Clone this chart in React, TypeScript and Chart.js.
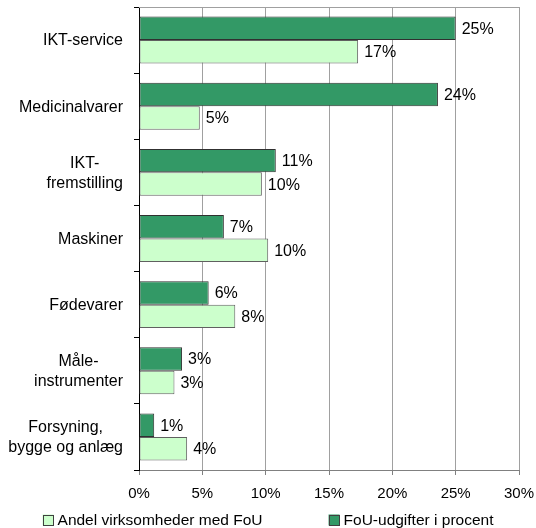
import React, { useEffect, useRef } from "react";
import { Chart, registerables } from "chart.js";

Chart.register(...registerables);

const categories: string[][] = [
  ["IKT-service"],
  ["Medicinalvarer"],
  ["IKT-", "fremstilling"],
  ["Maskiner"],
  ["Fødevarer"],
  ["Måle-", "instrumenter"],
  ["Forsyning,", "bygge og anlæg"],
];
const fouUdgifter = [25.0, 23.6, 10.8, 6.7, 5.5, 3.4, 1.2];
const andelVirksomheder = [17.3, 4.8, 9.7, 10.2, 7.6, 2.8, 3.8];
const seriesNames = ["FoU-udgifter i procent", "Andel virksomheder med FoU"];
const xMin = 0;
const xMax = 30;
const xStep = 5;

const FONT = "'Liberation Sans', Arial, sans-serif";
const DARK = "#339966";
const LIGHT = "#CCFFCC";

const extrasPlugin = {
  id: "extras",
  beforeDatasetsDraw(chart: any) {
    const { ctx, chartArea } = chart;
    ctx.save();
    ctx.strokeStyle = "#a0a0a0";
    ctx.lineWidth = 1;
    ctx.beginPath();
    ctx.moveTo(chartArea.left, chartArea.top + 0.5);
    ctx.lineTo(chartArea.right, chartArea.top + 0.5);
    ctx.stroke();
    ctx.restore();
  },
  afterDatasetsDraw(chart: any) {
    const { ctx } = chart;
    ctx.save();
    ctx.font = `16px ${FONT}`;
    ctx.fillStyle = "#000";
    ctx.textAlign = "left";
    ctx.textBaseline = "middle";
    chart.data.datasets.forEach((ds: any, di: number) => {
      const meta = chart.getDatasetMeta(di);
      meta.data.forEach((bar: any, i: number) => {
        const v = ds.data[i];
        ctx.fillText(Math.round(v) + "%", bar.x + 6, bar.y + 1);
      });
    });
    ctx.restore();
  },
  afterDraw(chart: any) {
    const { ctx, chartArea } = chart;
    const yScale = chart.scales.y;
    ctx.save();
    // category labels: each block right-aligned, lines centered within block
    ctx.font = `16px ${FONT}`;
    ctx.fillStyle = "#000";
    ctx.textAlign = "center";
    ctx.textBaseline = "middle";
    const lh = 20;
    const right = chartArea.left - 16;
    (chart.data.labels as string[][]).forEach((lines, i) => {
      const yc = yScale.getPixelForTick(i);
      const maxW = Math.max(...lines.map((l) => ctx.measureText(l).width));
      const cx = right - maxW / 2;
      const y0 = yc - ((lines.length - 1) * lh) / 2;
      lines.forEach((l, j) => ctx.fillText(l, cx, y0 + j * lh + 1));
    });
    // legend
    ctx.font = `15.5px ${FONT}`;
    ctx.textAlign = "left";
    const items = [
      { label: seriesNames[1], fill: LIGHT },
      { label: seriesNames[0], fill: DARK },
    ];
    const box = 11;
    const gapText = 4;
    const gapItem = 66;
    const widths = items.map((it) => box + gapText + ctx.measureText(it.label).width);
    const total = widths.reduce((a, b) => a + b, 0) + gapItem * (items.length - 1);
    let x = (chart.width - total) / 2;
    const yc = chart.height - 8;
    items.forEach((it, k) => {
      ctx.fillStyle = it.fill;
      ctx.fillRect(x, yc - box / 2, box, box);
      ctx.strokeStyle = "#404040";
      ctx.lineWidth = 1;
      ctx.strokeRect(Math.round(x) + 0.5, Math.round(yc - box / 2) + 0.5, box - 1, box - 1);
      ctx.fillStyle = "#000";
      ctx.fillText(it.label, x + box + gapText, yc + 1);
      x += widths[k] + gapItem;
    });
    ctx.restore();
  },
};

const zeroPad = (s: any) => {
  s.paddingTop = 0;
  s.paddingBottom = 0;
  s.paddingLeft = 0;
  s.paddingRight = 0;
};

export default function App() {
  const ref = useRef<HTMLCanvasElement | null>(null);
  useEffect(() => {
    if (!ref.current) return;
    Chart.defaults.font.family = FONT;
    const chart = new Chart(ref.current, {
      type: "bar",
      data: {
        labels: categories as any,
        datasets: [
          {
            label: seriesNames[0],
            data: fouUdgifter,
            backgroundColor: DARK,
            borderColor: "#303030",
            borderWidth: 1,
            borderSkipped: false,
          },
          {
            label: seriesNames[1],
            data: andelVirksomheder,
            backgroundColor: LIGHT,
            borderColor: "#606060",
            borderWidth: 1,
            borderSkipped: false,
          },
        ],
      },
      options: {
        indexAxis: "y",
        responsive: false,
        animation: false,
        events: [],
        layout: { padding: { top: 7, right: 17, left: 0, bottom: 24 } },
        datasets: { bar: { categoryPercentage: 0.71, barPercentage: 1 } },
        plugins: { legend: { display: false }, tooltip: { enabled: false } },
        scales: {
          x: {
            min: xMin,
            max: xMax,
            ticks: {
              stepSize: xStep,
              color: "#000",
              font: { size: 15 },
              padding: 10,
              maxRotation: 0,
              callback: (v: any) => v + "%",
            },
            grid: { color: "#a0a0a0", tickLength: 5, tickColor: "#808080" },
            border: { color: "#808080" },
            afterFit: (s: any) => {
              s.height = 34;
              zeroPad(s);
            },
          },
          y: {
            ticks: { color: "rgba(0,0,0,0)", font: { size: 15 } },
            grid: { drawOnChartArea: false, tickLength: 5, color: "#000" },
            border: { color: "#000" },
            afterFit: (s: any) => {
              s.width = 139;
              zeroPad(s);
            },
          },
        },
      },
      plugins: [extrasPlugin],
    } as any);
    return () => chart.destroy();
  }, []);
  return (
    <div style={{ position: "fixed", left: 0, top: 0, width: 536, height: 528, background: "#fff" }}>
      <canvas ref={ref} width={536} height={528} style={{ display: "block" }} />
    </div>
  );
}
